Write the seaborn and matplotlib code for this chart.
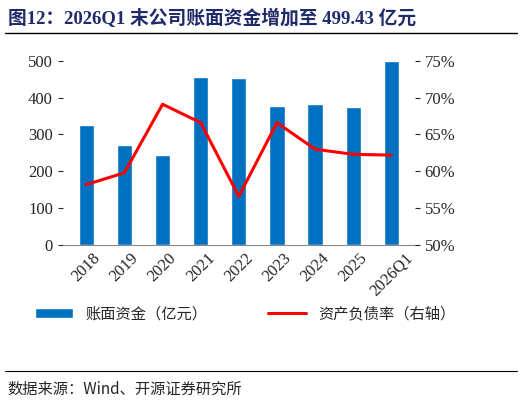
import matplotlib
matplotlib.use("Agg")
import matplotlib.pyplot as plt
import seaborn as sns
import pandas as pd
from matplotlib.ticker import FuncFormatter

years = ["2018", "2019", "2020", "2021", "2022", "2023", "2024", "2025", "2026Q1"]
cash = [327, 272, 245, 456, 452, 376, 383, 375, 499.43]
debt_ratio = [58.2, 59.8, 69.1, 66.6, 56.6, 66.6, 63.0, 62.3, 62.2]

sns.set_style("white")
plt.rcParams['font.family'] = ['Liberation Serif', 'Noto Sans CJK SC']

df = pd.DataFrame({"year": years, "cash": cash, "ratio": debt_ratio})

fig = plt.figure(figsize=(5.22, 4.05), dpi=100)
ax = fig.add_axes([0.12, 0.395, 0.675, 0.455])
sns.barplot(data=df, x="year", y="cash", color="#0070C0", width=0.4, ax=ax,
            saturation=1, label="账面资金（亿元）")
if ax.get_legend() is not None:
    ax.get_legend().remove()
ax.set_ylim(0, 500)
ax.set_yticks(range(0, 501, 100))
ax.set_xlabel("")
ax.set_ylabel("")
ax.tick_params(axis="x", rotation=45, labelsize=12, length=0)
ax.tick_params(axis="y", labelsize=12)
for s in ["top", "right", "left"]:
    ax.spines[s].set_visible(False)
ax.spines["bottom"].set_color("#888888")

ax2 = ax.twinx()
ax2.plot(range(len(years)), debt_ratio, color="#FF0000", lw=2.2, label="资产负债率（右轴）")
ax2.set_ylim(50, 75)
ax2.set_yticks(range(50, 76, 5))
ax2.yaxis.set_major_formatter(FuncFormatter(lambda v, p: f"{v:.0f}%"))
ax2.tick_params(axis="y", labelsize=12)
for s in ["top", "right", "left", "bottom"]:
    ax2.spines[s].set_visible(False)

h1, l1 = ax.get_legend_handles_labels()
h2, l2 = ax2.get_legend_handles_labels()
fig.legend(h1 + h2, l1 + l2, loc="center", bbox_to_anchor=(0.47, 0.225), ncol=2,
           frameon=False, columnspacing=4, handlelength=2.5,
           prop={"family": ["Noto Sans CJK SC"], "size": 11})

fig.text(0.015, 0.955, "图12：2026Q1 末公司账面资金增加至 499.43 亿元", color="#1F2A6B",
         fontsize=13.5, fontweight="bold", va="center",
         family=["Liberation Serif", "Noto Sans CJK SC"])
fig.add_artist(plt.Line2D([0.01, 0.99], [0.918, 0.918], color="black", lw=1))
fig.add_artist(plt.Line2D([0.01, 0.99], [0.085, 0.085], color="black", lw=0.8))
fig.text(0.015, 0.04, "数据来源：Wind、开源证券研究所", fontsize=11, va="center",
         family=["Noto Sans CJK SC", "Liberation Serif"])

fig.savefig("out.png", dpi=100)
